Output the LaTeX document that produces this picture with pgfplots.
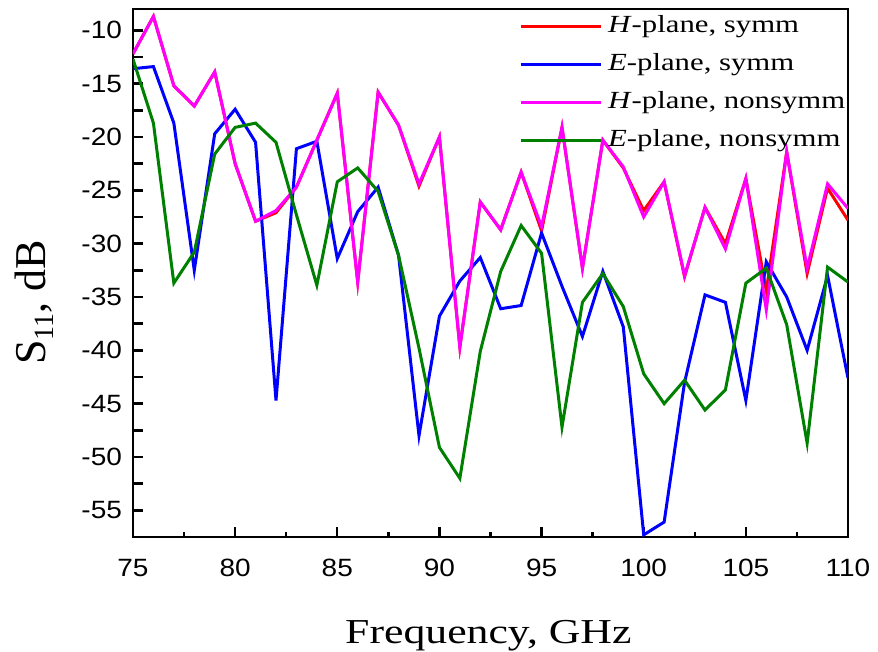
\documentclass[border=0pt]{standalone}
\usepackage{fontspec}
\setmainfont[FakeStretch=1.25]{Liberation Serif}
\newfontfamily\ylabfont{Liberation Serif}
\newfontfamily\tickfont[FakeStretch=1.12]{Liberation Sans}
\usepackage{pgfplots}
\pgfplotsset{compat=1.18}

\pgfplotstableread{
x Hs Es Hn En
75 -12.2 -13.6 -12.2 -12.7
76 -8.7 -13.4 -8.7 -18.7
77 -15.2 -18.7 -15.2 -33.7
78 -17.1 -32.5 -17.1 -30.8
79 -13.9 -19.7 -13.9 -21.6
80 -22.5 -17.4 -22.5 -19.1
81 -27.9 -20.5 -27.9 -18.7
82 -27.1 -44.7 -26.9 -20.5
83 -24.7 -21.1 -24.7 -27.3
84 -20.3 -20.4 -20.3 -33.9
85 -15.9 -31.4 -15.9 -24.2
86 -33.6 -27.0 -33.6 -22.9
87 -15.8 -24.7 -15.8 -25.1
88 -18.9 -31.1 -18.9 -31.1
89 -24.6 -48.0 -24.4 -39.8
90 -20.0 -36.8 -20.0 -49.1
91 -39.7 -33.5 -39.7 -52.0
92 -26.1 -31.3 -26.1 -40.1
93 -28.7 -36.1 -28.7 -32.6
94 -23.3 -35.8 -23.3 -28.3
95 -28.8 -29.0 -28.4 -30.9
96 -19.1 -34.0 -19.1 -47.2
97 -32.3 -38.7 -32.3 -35.5
98 -20.3 -32.6 -20.3 -32.8
99 -22.9 -37.8 -22.8 -35.9
100 -26.9 -57.3 -27.5 -42.2
101 -24.2 -56.1 -24.2 -45.0
102 -33.1 -43.0 -33.0 -42.8
103 -26.6 -34.8 -26.6 -45.6
104 -30.0 -35.5 -30.5 -43.7
105 -23.9 -44.7 -23.9 -33.7
106 -34.4 -31.7 -36.2 -32.3
107 -21.4 -35.0 -21.4 -37.6
108 -32.8 -40.0 -32.3 -48.7
109 -24.8 -33.0 -24.4 -32.2
110 -27.8 -42.6 -26.7 -33.6
}\datatable

\definecolor{cred}{RGB}{255,0,0}
\definecolor{cblue}{RGB}{0,0,255}
\definecolor{cmag}{RGB}{255,0,255}
\definecolor{cgreen}{RGB}{0,128,0}

\begin{document}
\begin{tikzpicture}
\begin{axis}[
  scale only axis, width=357.5pt, height=264pt,
  xmin=75, xmax=110, ymin=-57.5, ymax=-8,
  xtick={75,80,...,110}, xticklabels={75,80,85,90,95,100,105,110},
  minor x tick num=1,
  ytick={-55,-52.5,...,-10},
  yticklabels={-55,,-50,,-45,,-40,,-35,,-30,,-25,,-20,,-15,,-10},
  tick align=inside, xtick pos=bottom, ytick pos=left,
  major tick length=5pt, minor tick length=2.5pt,
  axis line style={line width=1.3pt, black},
  every tick/.style={line width=1.2pt, black},
  ticklabel style={font=\tickfont\fontsize{12.5}{14}\selectfont},
  xticklabel style={yshift=-7.5pt},
  yticklabel style={xshift=-2pt},
  xlabel={Frequency, GHz},
  xlabel style={font=\fontsize{17.5}{20}\selectfont, at={(axis description cs:0.497,-0.2008)}, anchor=base},
  ylabel={S\raisebox{-0.2em}{\fontsize{14}{14}\selectfont 11}, dB},
  ylabel style={font=\ylabfont\fontsize{22}{24}\selectfont, at={(axis description cs:-0.123,0.444)}, anchor=base},
  legend style={at={(axis description cs:0.5395,0.9906)}, anchor=north west, draw=none, fill=none,
    font=\fontsize{12.3}{14}\selectfont, inner sep=0pt, row sep=7pt, column sep=3pt,
    nodes={inner sep=0pt, text height=9pt, text depth=3pt}},
  legend cell align=left,
  legend image code/.code={\draw[#1] (0pt,0pt) -- (40pt,0pt);},
  every axis plot/.append style={line width=1.5pt},
]
\addplot[cred] table[x=x,y=Hs] {\datatable};
\addlegendentry{\textit{H}-plane, symm}
\addplot[cblue] table[x=x,y=Es] {\datatable};
\addlegendentry{\textit{E}-plane, symm}
\addplot[cmag] table[x=x,y=Hn] {\datatable};
\addlegendentry{\textit{H}-plane, nonsymm}
\addplot[cgreen] table[x=x,y=En] {\datatable};
\addlegendentry{\textit{E}-plane, nonsymm}
\end{axis}
\pgfresetboundingbox
\useasboundingbox (-66.5pt,-57.5pt) rectangle (372.5pt,268.5pt);
\end{tikzpicture}
\end{document}
